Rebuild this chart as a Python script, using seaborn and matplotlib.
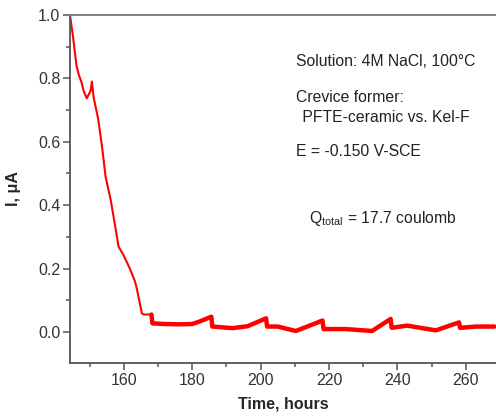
import numpy as np
import pandas as pd
import matplotlib
matplotlib.use("Agg")
import matplotlib.pyplot as plt
import seaborn as sns
from matplotlib.ticker import MultipleLocator

# Dados (corrente vs tempo)
hours = [144.3, 145.2, 146.2, 146.9, 147.6, 148.3, 149.2, 149.8, 150.3, 150.7,
         151.2, 152.5, 153.6, 154.7, 156.2, 157.2, 158.5, 159.9, 161.8, 163.3,
         163.8, 165.3, 165.8, 168.1, 168.4, 172.0, 176.0, 180.0, 182.2, 185.6,
         185.9, 191.8, 196.2, 201.6, 201.9, 205.0, 210.3, 218.1, 218.4, 225.0,
         232.6, 238.0, 238.3, 242.8, 251.2, 258.0, 258.3, 263.0, 268.3]
current = [1.000, 0.930, 0.840, 0.810, 0.790, 0.760, 0.737, 0.750, 0.760, 0.790,
           0.740, 0.674, 0.590, 0.490, 0.416, 0.353, 0.269, 0.243, 0.200, 0.159,
           0.138, 0.059, 0.055, 0.055, 0.027, 0.025, 0.024, 0.025, 0.033, 0.048,
           0.017, 0.012, 0.018, 0.043, 0.017, 0.017, 0.003, 0.036, 0.009, 0.009,
           0.003, 0.041, 0.013, 0.020, 0.005, 0.030, 0.013, 0.017, 0.017]

df = pd.DataFrame({"hours": hours, "current": current})

sns.set_style("ticks")
plt.rcParams["font.family"] = ["Liberation Sans", "DejaVu Sans"]
plt.rcParams["mathtext.fontset"] = "custom"
plt.rcParams["mathtext.rm"] = "Liberation Sans"
plt.rcParams["mathtext.default"] = "regular"

fig = plt.figure(figsize=(4.96, 4.16), dpi=100)
ax = fig.add_axes([70/496, 1 - 363/416, 1 - 70/496, 348/416])

# parte inicial fina, parte plana mais grossa (sinal ruidoso)
sns.lineplot(data=df.iloc[:25], x="hours", y="current", color="red", lw=1.5,
             estimator=None, sort=False, ax=ax)
sns.lineplot(data=df.iloc[23:], x="hours", y="current", color="red", lw=3.2,
             estimator=None, sort=False, ax=ax)

ax.set_xlim(144.3, 268.8)
ax.set_ylim(-0.098, 1.0)
ax.xaxis.set_major_locator(MultipleLocator(20))
ax.xaxis.set_minor_locator(MultipleLocator(10))
ax.yaxis.set_major_locator(MultipleLocator(0.2))
ax.yaxis.set_minor_locator(MultipleLocator(0.1))
ax.yaxis.set_major_formatter(matplotlib.ticker.FormatStrFormatter("%.1f"))

for s in ["left", "bottom", "top"]:
    ax.spines[s].set_color("#555555")
    ax.spines[s].set_linewidth(1.3)
ax.spines["top"].set_color("#777777")
ax.spines["right"].set_visible(False)

ax.tick_params(which="major", length=5, width=1.1, color="#555555",
               labelsize=11.5, labelcolor="#333333", pad=2)
ax.tick_params(which="minor", length=3, width=1.1, color="#555555")

ax.set_xlabel("Time, hours", fontsize=11.5, fontweight="bold", labelpad=6)
ax.set_ylabel("I, μA", fontsize=11.5, fontweight="bold", labelpad=12)

txt = dict(transform=fig.transFigure, fontsize=11.3, color="#222222", va="center")
fig.text(296/496, 1 - 62/416, "Solution: 4M NaCl, 100°C", **txt)
fig.text(296/496, 1 - 97/416, "Crevice former:", **txt)
fig.text(298/496, 1 - 117/416, " PFTE-ceramic vs. Kel-F", **txt)
fig.text(296/496, 1 - 152/416, "E = -0.150 V-SCE", **txt)
fig.text(309/496, 1 - 218/416, "Q$_{total}$ = 17.7 coulomb", **txt)

fig.savefig("out.png", dpi=100)
